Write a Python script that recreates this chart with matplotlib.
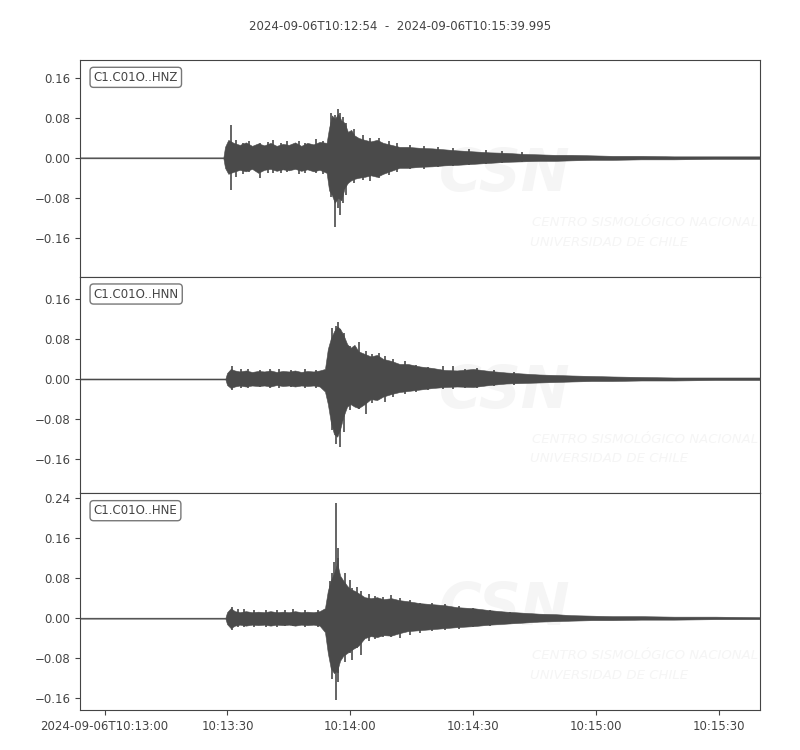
import numpy as np
import matplotlib
matplotlib.use("Agg")
import matplotlib.pyplot as plt
import matplotlib.dates as mdates
from matplotlib.ticker import MultipleLocator, FuncFormatter

# trace ids and plot limits
channels = ["C1.C01O..HNZ", "C1.C01O..HNN", "C1.C01O..HNE"]
ylims = [(-0.238, 0.196), (-0.228, 0.204), (-0.184, 0.25)]
title = "2024-09-06T10:12:54  -  2024-09-06T10:15:39.995"
start = np.datetime64("2024-09-06T10:12:54.000")
duration = 165.995

# envelope nodes (seconds after start), upper / lower amplitude
z_t = [0, 35.0, 35.4, 36.2, 37.5, 39, 40.5, 42, 43.5, 45, 46.5, 48, 49.5, 51, 52.5,
       54, 55.5, 57, 58.5, 60.2, 60.8, 61.5, 62.2, 63, 63.8, 64.6, 65.4, 66.2, 67, 68,
       69.5, 71, 72.5, 74, 76, 78, 80, 83, 86, 89, 92, 96, 100, 104, 108, 112, 116,
       120, 125, 130, 137, 145, 155, 166]
z_up = [.001, .001, .022, .036, .030, .026, .031, .024, .029, .025, .030, .024, .028, .026, .031,
        .024, .030, .027, .032, .030, .060, .085, .078, .088, .075, .070, .052, .056, .045, .040,
        .036, .033, .036, .030, .026, .022, .022, .020, .019, .017, .015, .013, .011, .010, .008,
        .007, .006, .006, .005, .004, .004, .003, .003, .003]
z_lo = [-.001, -.001, -.020, -.032, -.028, -.024, -.027, -.022, -.030, -.024, -.022, -.026, -.023, -.025, -.022,
        -.026, -.023, -.027, -.024, -.030, -.065, -.075, -.090, -.080, -.085, -.060, -.050, -.045, -.042, -.040,
        -.038, -.035, -.038, -.032, -.026, -.020, -.020, -.018, -.017, -.015, -.014, -.012, -.010, -.008, -.007,
        -.006, -.006, -.005, -.004, -.004, -.003, -.003, -.002, -.002]
z_spk_t = [36.9, 38.2, 39.8, 41.3, 44.0, 45.8, 47.0, 49.0, 50.6, 53.5, 55.0, 57.5, 59.3,
           61.2, 62.3, 63.1, 63.5, 64.2, 65.0, 66.8, 69.0, 70.7, 73.0, 75.5, 77.3, 80.5,
           84.0, 87.5, 91.0, 95.0, 99.0, 103.0, 108.0]
z_spk_hi = [0.066, 0.035, 0.030, 0.034, 0.030, 0.032, 0.036, 0.030, 0.033, 0.033, 0.030, 0.038, 0.034,
            0.090, 0.085, 0.098, 0.090, 0.082, 0.070, 0.058, 0.045, 0.040, 0.040, 0.033, 0.030, 0.026,
            0.024, 0.022, 0.020, 0.017, 0.015, 0.013, 0.011]
z_spk_lo = [-0.064, -0.038, -0.032, -0.028, -0.040, -0.030, -0.030, -0.031, -0.028, -0.032, -0.030, -0.030, -0.032,
            -0.078, -0.138, -0.100, -0.114, -0.090, -0.075, -0.050, -0.045, -0.046, -0.040, -0.034, -0.028, -0.022,
            -0.022, -0.019, -0.017, -0.015, -0.012, -0.011, -0.009]

n_t = [0, 35.5, 35.9, 36.8, 37.8, 39, 40.5, 42, 43.5, 45, 46.5, 48, 49.5, 51, 52.5,
       54, 55.5, 57, 58.5, 59.8, 60.5, 61.2, 62, 62.8, 63.5, 64.3, 65.2, 66, 67, 68,
       69.5, 71, 72.5, 74, 76, 78, 80, 83, 86, 89, 92, 96, 100, 104, 108, 112, 116,
       120, 125, 130, 137, 145, 155, 166]
n_up = [.001, .001, .012, .020, .017, .015, .017, .014, .016, .015, .017, .014, .016, .015, .017,
        .014, .016, .015, .017, .020, .060, .080, .095, .105, .100, .088, .070, .062, .068, .055,
        .050, .045, .048, .040, .036, .030, .030, .025, .022, .018, .017, .020, .016, .013, .011,
        .009, .008, .007, .006, .005, .004, .003, .003, .003]
n_lo = [-.001, -.001, -.012, -.018, -.015, -.013, -.015, -.013, -.014, -.013, -.015, -.012, -.014, -.013, -.015,
        -.013, -.014, -.013, -.015, -.025, -.050, -.085, -.110, -.115, -.100, -.075, -.055, -.050, -.055, -.058,
        -.050, -.040, -.042, -.035, -.030, -.026, -.024, -.021, -.018, -.016, -.015, -.016, -.012, -.009, -.008,
        -.007, -.006, -.005, -.004, -.004, -.003, -.003, -.002, -.002]
n_spk_t = [37.1, 39.2, 41.0, 44.0, 46.5, 48.5, 51.5, 55.0, 57.5, 61.5, 62.5, 63.1, 63.4, 64.4,
           65.8, 68.0, 69.8, 71.3, 72.9, 74.5, 76.5, 79.4, 82.0, 85.0, 88.5, 91.0, 94.0, 97.0, 101.0, 106.0]
n_spk_hi = [0.026, 0.019, 0.020, 0.018, 0.019, 0.020, 0.018, 0.019, 0.018, 0.101, 0.105, 0.113, 0.100, 0.091,
            0.065, 0.073, 0.055, 0.050, 0.051, 0.045, 0.040, 0.035, 0.028, 0.024, 0.025, 0.025, 0.020, 0.022, 0.017, 0.013]
n_spk_lo = [-0.022, -0.017, -0.018, -0.016, -0.017, -0.017, -0.016, -0.018, -0.017, -0.102, -0.129, -0.110, -0.135, -0.105,
            -0.062, -0.059, -0.069, -0.048, -0.040, -0.045, -0.036, -0.029, -0.026, -0.022, -0.020, -0.019, -0.018, -0.018, -0.014, -0.011]

e_t = n_t
e_up = [.001, .001, .012, .020, .014, .012, .014, .012, .013, .012, .014, .012, .013, .012, .014,
        .012, .013, .012, .014, .020, .055, .075, .090, .110, .085, .075, .065, .058, .055, .050,
        .042, .040, .042, .038, .040, .036, .034, .030, .028, .026, .022, .020, .016, .013, .011,
        .009, .008, .006, .005, .004, .004, .003, .003, .002]
e_lo = [-.001, -.001, -.012, -.020, -.015, -.013, -.015, -.013, -.014, -.013, -.015, -.013, -.014, -.013, -.015,
        -.013, -.014, -.013, -.015, -.028, -.070, -.100, -.110, -.105, -.085, -.075, -.070, -.065, -.060, -.055,
        -.040, -.036, -.038, -.034, -.035, -.030, -.026, -.024, -.022, -.020, -.018, -.016, -.013, -.011, -.009,
        -.007, -.006, -.005, -.004, -.004, -.003, -.003, -.002, -.002]
e_spk_t = [37.1, 38.5, 40.0, 42.5, 45.5, 48.0, 50.0, 52.0, 55.0, 58.0, 61.1, 61.5, 61.9, 62.5, 62.9, 63.1,
           64.7, 65.9, 66.3, 67.5, 68.7, 70.5, 72.0, 74.0, 76.0, 78.0, 80.5, 83.0, 86.0, 89.0, 92.5, 96.0, 100.0, 105.0]
e_spk_hi = [0.022, 0.018, 0.018, 0.016, 0.017, 0.016, 0.017, 0.018, 0.016, 0.017, 0.074, 0.090, 0.113, 0.231, 0.120, 0.140,
            0.090, 0.076, 0.060, 0.063, 0.055, 0.048, 0.045, 0.043, 0.046, 0.040, 0.036, 0.031, 0.030, 0.028, 0.025, 0.020, 0.017, 0.013]
e_spk_lo = [-0.024, -0.017, -0.018, -0.017, -0.017, -0.018, -0.016, -0.016, -0.017, -0.018, -0.060, -0.121, -0.100, -0.164, -0.127, -0.110,
            -0.087, -0.070, -0.084, -0.060, -0.074, -0.045, -0.042, -0.037, -0.038, -0.040, -0.033, -0.030, -0.025, -0.023, -0.021, -0.018, -0.015, -0.012]

traces = [
    (z_t, z_up, z_lo, z_spk_t, z_spk_hi, z_spk_lo),
    (n_t, n_up, n_lo, n_spk_t, n_spk_hi, n_spk_lo),
    (e_t, e_up, e_lo, e_spk_t, e_spk_hi, e_spk_lo),
]

wave_col = "#4a4a4a"
text_col = "#444444"
mark_col = "#f5f5f5"
plt.rcParams["font.family"] = "DejaVu Sans"
plt.rcParams["font.size"] = 8.5


def to_time(sec):
    return start + (np.asarray(sec) * 1000).astype("timedelta64[ms]")


def yfmt(v, pos):
    if abs(v) < 1e-9:
        return "0.00"
    return f"{v:.2f}".replace("-", "\u2212")


def xfmt(v, pos):
    d = mdates.num2date(v)
    if pos == 0:
        return d.strftime("%Y-%m-%dT%H:%M:%S")
    return d.strftime("%H:%M:%S")


fig, axes = plt.subplots(3, 1, figsize=(8, 7.5), dpi=100, sharex=True)
fig.subplots_adjust(left=0.1, right=0.95, top=0.92, bottom=0.0533, hspace=0)
fig.suptitle(title, y=0.973, fontsize=8.5, color=text_col)

for ax, name, lim, tr in zip(axes, channels, ylims, traces):
    t, up, lo, st, sh, sl = tr
    ax.fill_between(to_time(t), lo, up, color=wave_col, lw=0.4, zorder=3)
    ax.vlines(to_time(st), sl, sh, color=wave_col, lw=1.2, zorder=3)
    ax.set_ylim(*lim)
    ax.set_xlim(to_time(0), to_time(duration))
    ax.yaxis.set_major_locator(MultipleLocator(0.08))
    ax.yaxis.set_major_formatter(FuncFormatter(yfmt))
    ax.tick_params(colors=text_col, labelcolor=text_col, labelsize=8.5)
    for sp in ax.spines.values():
        sp.set_color("#444444")
    ax.text(0.02, 0.92, name, transform=ax.transAxes, ha="left", va="center",
            color=text_col, fontsize=8.5, zorder=5,
            bbox=dict(boxstyle="round,pad=0.3", fc="white", ec="#777777", lw=1))
    # faint CSN watermark
    ax.text(0.625, 0.47, "CSN", transform=ax.transAxes, ha="center", va="center",
            fontsize=42, fontweight="bold", style="italic", color=mark_col,
            zorder=1, clip_on=True)
    ax.text(0.665, 0.25, "CENTRO SISMOLÓGICO NACIONAL", transform=ax.transAxes,
            ha="left", va="center", fontsize=9.5, style="italic", color=mark_col,
            zorder=1, clip_on=True)
    ax.text(0.662, 0.16, "UNIVERSIDAD DE CHILE", transform=ax.transAxes,
            ha="left", va="center", fontsize=9.5, style="italic", color=mark_col,
            zorder=1, clip_on=True)

for ax in axes[:-1]:
    ax.tick_params(axis="x", bottom=False, labelbottom=False)

axes[-1].xaxis.set_major_locator(mdates.SecondLocator(bysecond=[0, 30]))
axes[-1].xaxis.set_major_formatter(FuncFormatter(xfmt))

fig.savefig("out.png", dpi=100)
